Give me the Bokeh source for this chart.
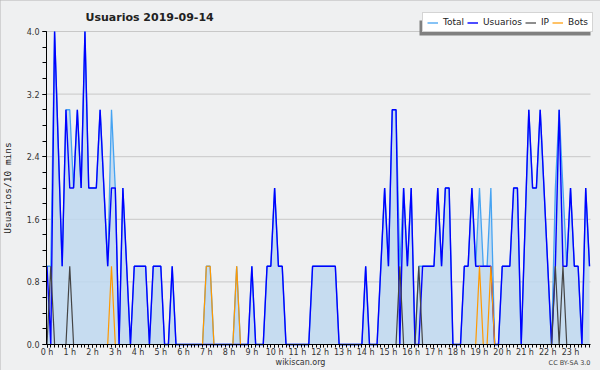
import math
from bokeh.plotting import figure
from bokeh.models import (ColumnDataSource, FixedTicker, Legend, LegendItem, Label,
                          BoxAnnotation, Range1d, NumeralTickFormatter)
from bokeh.embed import file_html
from bokeh.resources import INLINE

# ---- data (10-minute slots, 2019-09-14) ----
slot_minutes = list(range(0, 1440, 10))
usuarios = [1, 0, 4, 2.5, 1, 3, 2, 2, 3, 2,
            4, 2, 2, 2, 3, 2, 1, 2, 2, 0,
            2, 1, 0, 1, 1, 1, 1, 0, 1, 1,
            1, 0, 0, 1, 0, 0, 0, 0, 0, 0,
            0, 0, 0, 0, 0, 0, 0, 0, 0, 0,
            0, 0, 0, 0, 1, 0, 0, 0, 1, 1,
            2, 1, 1, 0, 0, 0, 0, 0, 0, 0,
            1, 1, 1, 1, 1, 1, 1, 0, 0, 0,
            0, 0, 0, 0, 1, 0, 0, 0, 1, 2,
            1, 3, 3, 0, 2, 1, 2, 0, 0, 1,
            1, 1, 1, 2, 1, 2, 2, 0, 0, 0,
            1, 1, 2, 1, 1, 1, 1, 1, 0, 0,
            1, 1, 1, 2, 2, 0, 1.5, 3, 2, 2,
            3, 2, 1, 0, 1, 3, 1, 1, 2, 1,
            1, 0, 2, 1]
ip = [0, 1, 0, 0, 0, 0, 1, 0, 0, 0,
      0, 0, 0, 0, 0, 0, 0, 0, 0, 0,
      0, 0, 0, 0, 0, 0, 0, 0, 0, 0,
      0, 0, 0, 0, 0, 0, 0, 0, 0, 0,
      0, 0, 0, 0, 0, 0, 0, 0, 0, 0,
      0, 0, 0, 0, 0, 0, 0, 0, 0, 0,
      0, 0, 0, 0, 0, 0, 0, 0, 0, 0,
      0, 0, 0, 0, 0, 0, 0, 0, 0, 0,
      0, 0, 0, 0, 0, 0, 0, 0, 0, 0,
      0, 0, 0, 1, 0, 0, 0, 0, 1, 0,
      0, 0, 0, 0, 0, 0, 0, 0, 0, 0,
      0, 0, 0, 0, 0, 0, 0, 0, 0, 0,
      0, 0, 0, 0, 0, 0, 0, 0, 0, 0,
      0, 0, 0, 0, 1, 0, 1, 0, 0, 0,
      0, 0, 0, 0]
bots = [0, 0, 0, 0, 0, 0, 0, 0, 0, 0,
        0, 0, 0, 0, 0, 0, 0, 1, 0, 0,
        0, 0, 0, 0, 0, 0, 0, 0, 0, 0,
        0, 0, 0, 0, 0, 0, 0, 0, 0, 0,
        0, 0, 1, 1, 0, 0, 0, 0, 0, 0,
        1, 0, 0, 0, 0, 0, 0, 0, 0, 0,
        0, 0, 0, 0, 0, 0, 0, 0, 0, 0,
        0, 0, 0, 0, 0, 0, 0, 0, 0, 0,
        0, 0, 0, 0, 0, 0, 0, 0, 0, 0,
        0, 0, 0, 0, 0, 0, 0, 0, 0, 0,
        0, 0, 0, 0, 0, 0, 0, 0, 0, 0,
        0, 0, 0, 0, 1, 0, 0, 1, 0, 0,
        0, 0, 0, 0, 0, 0, 0, 0, 0, 0,
        0, 0, 0, 0, 0, 0, 0, 0, 0, 0,
        0, 0, 0, 0]
total = [1, 1, 4, 2.5, 1, 3, 3, 2, 3, 2,
         4, 2, 2, 2, 3, 2, 1, 3, 2, 0,
         2, 1, 0, 1, 1, 1, 1, 0, 1, 1,
         1, 0, 0, 1, 0, 0, 0, 0, 0, 0,
         0, 0, 1, 1, 0, 0, 0, 0, 0, 0,
         1, 0, 0, 0, 1, 0, 0, 0, 1, 1,
         2, 1, 1, 0, 0, 0, 0, 0, 0, 0,
         1, 1, 1, 1, 1, 1, 1, 0, 0, 0,
         0, 0, 0, 0, 1, 0, 0, 0, 1, 2,
         1, 3, 3, 1, 2, 1, 2, 0, 1, 1,
         1, 1, 1, 2, 1, 2, 2, 0, 0, 0,
         1, 1, 2, 1, 2, 1, 1, 2, 0, 0,
         1, 1, 1, 2, 2, 0, 1.5, 3, 2, 2,
         3, 2, 1, 0, 2, 3, 2, 1, 2, 1,
         1, 0, 2, 1]

hour_ticks = list(range(24))
hour_labels = ["%d h" % h for h in hour_ticks]
y_ticks = [0.0, 0.8, 1.6, 2.4, 3.2, 4.0]
y_minor = [0.2 * k for k in range(21)]

series_names = ["Total", "Usuarios", "IP", "Bots"]
title_text = "Usuarios  2019-09-14"
y_title = "Usuarios/10 mins"
site_text = "wikiscan.org"
license_text = "CC BY-SA 3.0"

hours = [m / 60 for m in slot_minutes]
src = ColumnDataSource(dict(x=hours, usuarios=usuarios, ip=ip, bots=bots, total=total))

# ---- layout: the frame covers the whole picture; the axes sit at fixed places ----
W, H = 600, 370
X_LEFT, X_RIGHT = 46, 590          # pixel columns of the time axis
Y_TOP, Y_BOT = 31, 344             # pixel rows of 4.0 and 0.0
XA0, XA1 = -0.022, 23.877          # hours shown between X_LEFT and X_RIGHT
ppx = (X_RIGHT - X_LEFT) / (XA1 - XA0)
ppy = (Y_BOT - Y_TOP) / 4.0
x_range = Range1d(XA0 - X_LEFT / ppx, XA1 + (W - X_RIGHT) / ppx)
y_range = Range1d(-(H - Y_BOT) / ppy, 4.0 + Y_TOP / ppy)

p = figure(width=W, height=H, output_backend="svg", toolbar_location=None,
           title=None, x_range=x_range, y_range=y_range,
           min_border_left=0, min_border_right=0, min_border_top=0, min_border_bottom=0)
p.background_fill_color = "#eff0f1"
p.border_fill_color = "#f0f0f0"
p.outline_line_color = None
p.styles = {"outline": "2px solid #b4b4b4", "outline-offset": "-2px"}
p.xgrid.visible = False
p.ygrid.visible = False

# horizontal grid lines at the value ticks
p.segment(x0=XA0, x1=XA1, y0=y_ticks, y1=y_ticks, line_color="#c8c8c8", line_width=1)

# data
p.varea(x="x", y1=0, y2="total", source=src, fill_color="#bed8f0", fill_alpha=0.85)
r_total = p.line("x", "total", source=src, line_color="#45a3f2", line_width=1.3)
r_users = p.line("x", "usuarios", source=src, line_color="#0000ff", line_width=1.4)
r_ip = p.line("x", "ip", source=src, line_color="#444444", line_width=1.2)
r_bots = p.line("x", "bots", source=src, line_color="#ff9900", line_width=1.2)

# axes
xa = p.xaxis[0]
xa.fixed_location = 0
xa.bounds = (XA0, XA1)
xa.ticker = FixedTicker(ticks=hour_ticks, minor_ticks=hours)
xa.major_label_overrides = {h: lab for h, lab in zip(hour_ticks, hour_labels)}
xa.major_tick_out = 3
xa.major_tick_in = 0
xa.minor_tick_out = 3
xa.minor_tick_in = 0
xa.major_label_standoff = 0
for ax in (p.xaxis[0], p.yaxis[0]):
    ax.axis_line_color = "#000000"
    ax.major_tick_line_color = "#000000"
    ax.minor_tick_line_color = "#000000"
    ax.major_label_text_font = "DejaVu Sans"
    ax.major_label_text_font_size = "8px"
    ax.major_label_text_color = "#333333"
ya = p.yaxis[0]
ya.fixed_location = XA0
ya.bounds = (0, 4.0)
ya.ticker = FixedTicker(ticks=y_ticks, minor_ticks=y_minor)
ya.formatter = NumeralTickFormatter(format="0.0")
ya.major_tick_out = 4
ya.major_tick_in = 0
ya.minor_tick_out = 4
ya.minor_tick_in = 0
ya.major_label_standoff = 3
ya.axis_label = y_title
ya.axis_label_standoff = 11
ya.axis_label_text_font = "DejaVu Sans Mono"
ya.axis_label_text_font_size = "9.5px"
ya.axis_label_text_font_style = "normal"
ya.axis_label_text_color = "#222222"

SCR = dict(x_units="screen", y_units="screen")
BSCR = dict(left_units="screen", right_units="screen", top_units="screen",
            bottom_units="screen")

# texts (screen units from the bottom-left corner)
p.add_layout(Label(x=151, y=H - 16.5, text=title_text,
                   text_font="DejaVu Sans", text_font_style="bold", text_font_size="11px",
                   text_align="center", text_baseline="middle", text_color="#222222", **SCR))
p.add_layout(Label(x=300, y=H - 361.5, text=site_text,
                   text_font="DejaVu Sans", text_font_size="8px",
                   text_align="center", text_baseline="middle", text_color="#333333", **SCR))
p.add_layout(Label(x=590, y=H - 362.5, text=license_text,
                   text_font="DejaVu Sans", text_font_size="6.5px",
                   text_align="right", text_baseline="middle", text_color="#444444", **SCR))

# legend shadow + legend
p.add_layout(BoxAnnotation(left=419, right=590, bottom=H - 35, top=H - 20,
                           fill_color="#808080", fill_alpha=1, line_color=None, **BSCR))
legend = Legend(items=[LegendItem(label=n, renderers=[r]) for n, r in
                       zip(series_names, [r_total, r_users, r_ip, r_bots])],
                location=(422, H - 32), orientation="horizontal",
                padding=4, spacing=3, label_standoff=5, glyph_width=11,
                glyph_height=7, label_height=7, label_width=0, margin=0,
                label_text_font="DejaVu Sans", label_text_font_size="9px",
                label_text_baseline="middle", label_text_color="#222222",
                border_line_color="#aaaaaa", border_line_width=1,
                background_fill_color="#ffffff", background_fill_alpha=1)
p.add_layout(legend)

open("out.html", "w").write(file_html(p, INLINE))
